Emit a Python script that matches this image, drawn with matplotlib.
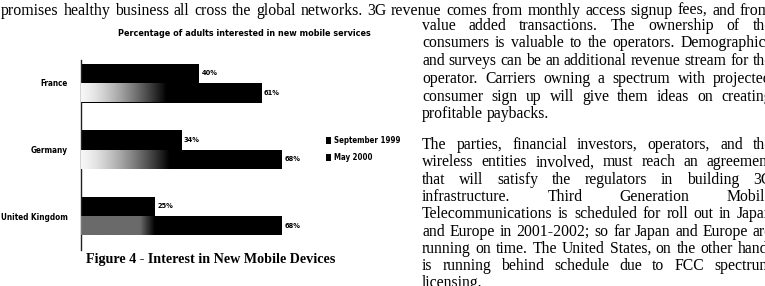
import numpy as np
import matplotlib
matplotlib.use("Agg")
import matplotlib.pyplot as plt
from matplotlib.patches import Patch
from matplotlib import font_manager as fm

# ---------------- data ----------------
countries = ["France", "Germany", "United Kingdom"]
sep_1999 = [40, 34, 25]
may_2000 = [61, 68, 68]
series_labels = ["September 1999", "May 2000"]
chart_title = "Percentage of adults interested in new mobile services"
caption = "Figure 4 - Interest in New Mobile Devices"

top_line = ("promises healthy business all cross the global networks.  3G revenue "
            "comes from monthly access signup fees, and from")
para1 = [
    ("value added transactions.  The ownership of the", True),
    ("consumers is valuable to the operators.  Demographics", True),
    ("and surveys can be an additional revenue stream for the", True),
    ("operator.  Carriers owning a spectrum with projected", True),
    ("consumer sign up will give them ideas on creating", True),
    ("profitable paybacks.", False),
]
para2 = [
    ("The parties, financial investors, operators, and the", True),
    ("wireless entities involved, must reach an agreement", True),
    ("that will satisfy the regulators in building 3G", True),
    ("infrastructure.  Third Generation Mobile", True),
    ("Telecommunications is scheduled for roll out in Japan", True),
    ("and Europe in 2001-2002; so far Japan and Europe are", True),
    ("running on time.  The United States, on the other hand,", True),
    ("is running behind schedule due to FCC spectrum", True),
    ("licensing.", False),
]

W, H = 765, 286
fig = plt.figure(figsize=(W / 100, H / 100), dpi=100)
fig.patch.set_facecolor("white")

def fx(x):
    return x / W

def fy(y):
    return 1 - y / H

# pick a bold condensed sans face if one is installed
def _is_bold(f):
    w = f.weight
    if isinstance(w, str):
        return w.lower() in ("bold", "heavy", "black", "extra bold", "semibold", "demibold")
    return w >= 600

cands = [f for f in fm.fontManager.ttflist
         if ("Narrow" in f.name or "Condensed" in f.name or "condensed" in str(f.stretch))
         and _is_bold(f) and f.style == "normal"]
cands.sort(key=lambda f: (0 if "Liberation" in f.name else 1 if "DejaVu" in f.name else 2, f.name))
if cands:
    BOLD_FILE = cands[0].fname
    def SP(size):
        return fm.FontProperties(fname=BOLD_FILE, size=size)
else:
    def SP(size):
        return fm.FontProperties(family=["Liberation Sans", "DejaVu Sans"], weight="bold",
                                 size=size * 0.95)

SERIF = ["Liberation Serif", "DejaVu Serif"]

# ---------------- chart axes ----------------
ax_left, ax_right = 81, 81 + 2.96 * 100
ax_top, ax_bot = 60, 250
ax = fig.add_axes([fx(ax_left), fy(ax_bot), fx(ax_right - ax_left), (ax_bot - ax_top) / H])
ax.set_xlim(0, 100)
ax.set_ylim(2 + (ax_bot - 216) / 66.5, -(83 - ax_top) / 66.5)
ax.set_facecolor("none")
for s in ["top", "right", "bottom"]:
    ax.spines[s].set_visible(False)
ax.spines["left"].set_linewidth(1.0)
ax.spines["left"].set_color("#222222")
ax.set_xticks([])
ax.set_yticks(range(len(countries)))
ax.set_yticklabels(countries)
for lab in ax.get_yticklabels():
    lab.set_fontproperties(SP(5.9))
ax.tick_params(axis="y", length=0, pad=9.5)

bh = 19.5 / 66.5
y = np.arange(len(countries))
b1 = ax.barh(y - bh / 2, sep_1999, height=bh, color="black", edgecolor="black", linewidth=0)
b2 = ax.barh(y + bh / 2, may_2000, height=bh, color="black", edgecolor="black", linewidth=0)

# faded (half-tone) start of the May 2000 bars
fade_specs = [(0.97, 29, False), (0.97, 30, False), (0.6, 25, True)]
for rect, (a0, fend, flat) in zip(b2, fade_specs):
    n = 200
    xs = np.linspace(0, 1, n)
    img = np.ones((1, n, 4))
    if flat:
        img[0, :, :3] = 0.7
        img[0, :, 3] = np.where(xs < 0.8, a0, a0 * (1 - (xs - 0.8) / 0.2))
    else:
        img[0, :, 3] = a0 * np.clip(1 - xs ** 1.4, 0, 1)
    yb = rect.get_y()
    im = ax.imshow(img, extent=(0, fend, yb + rect.get_height(), yb), aspect="auto",
                   interpolation="bilinear", zorder=3)
    im.set_clip_path(rect)

for rects, vals in [(b1, sep_1999), (b2, may_2000)]:
    for r, v in zip(rects, vals):
        ax.text(r.get_width() + 0.8, r.get_y() + r.get_height() / 2, f"{v}%",
                fontproperties=SP(5.3), va="center", ha="left")

leg = ax.legend(handles=[Patch(facecolor="black"), Patch(facecolor="black")],
                labels=series_labels, loc="upper left", frameon=False,
                bbox_to_anchor=(fx(326), fy(136)), bbox_transform=fig.transFigure,
                borderpad=0, borderaxespad=0, handlelength=0.65, handleheight=0.95,
                handletextpad=0.35, labelspacing=1.0, prop=SP(5.7))

fig.text(fx(244), fy(33), chart_title, fontproperties=SP(6.5), ha="center", va="center")
fig.text(fx(211), fy(260), caption, family=SERIF, fontweight="bold", fontsize=10.2,
         ha="center", va="center")

# ---------------- body text ----------------
renderer = fig.canvas.get_renderer()

def measure(s, fs):
    t = fig.text(0, 0, s, family=SERIF, fontsize=fs)
    w = t.get_window_extent(renderer).width
    t.remove()
    return w

def space_w(fs):
    return measure("a a", fs) - measure("aa", fs)

def place_line(text, x0, x1, ybase, justify, fs):
    words = text.split()
    arts = [fig.text(fx(x0), fy(ybase), w, family=SERIF, fontsize=fs,
                     ha="left", va="baseline") for w in words]
    widths = [a.get_window_extent(renderer).width for a in arts]
    space = space_w(fs)
    if justify and len(words) > 1:
        gap = max((x1 - x0 - sum(widths)) / (len(words) - 1), 0.9 * space)
    else:
        gap = space
    x = x0
    for a, w in zip(arts, widths):
        a.set_position((fx(x), fy(ybase)))
        x += w + gap

# top line: size chosen so its natural width spans the line
ref_fs = 10.0
wds = top_line.split()
nat = sum(measure(w, ref_fs) for w in wds) + space_w(ref_fs) * 1.25 * (len(wds) - 1)
top_fs = ref_fs * 770 / nat
place_line(top_line, 1, 771, 15, True, top_fs)

BODY_FS = 11.3
for i, (t, j) in enumerate(para1):
    place_line(t, 422, 772, 29.5 + 17.8 * i, j, BODY_FS)
for i, (t, j) in enumerate(para2):
    place_line(t, 422, 772, 149 + 17.3 * i, j, BODY_FS)

fig.savefig("out.png", dpi=100, facecolor="white")
